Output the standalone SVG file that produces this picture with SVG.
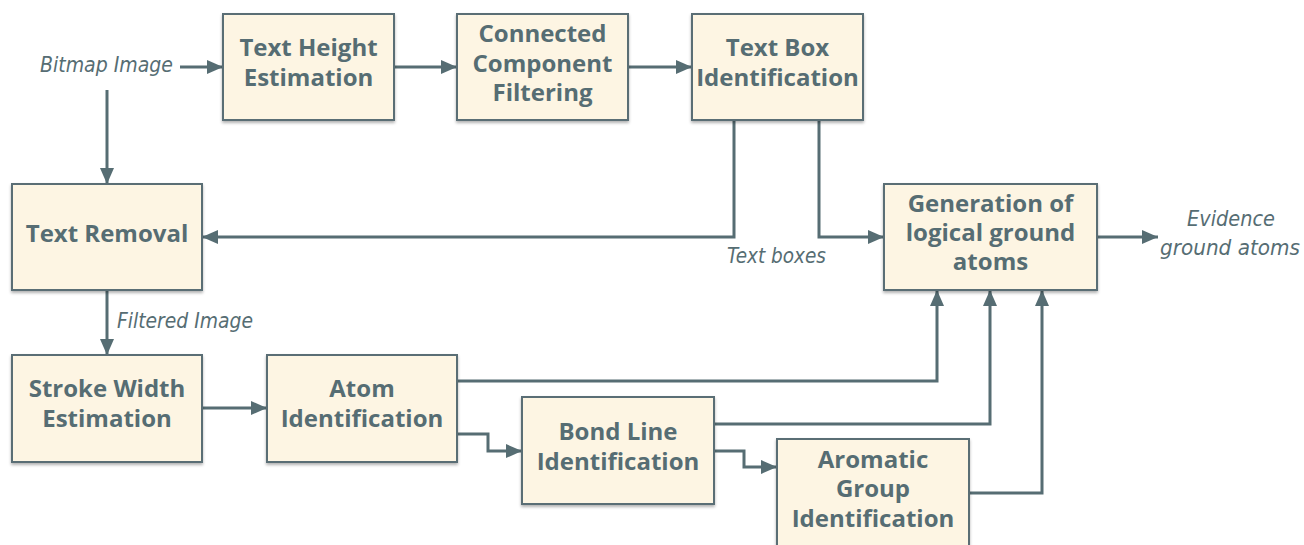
<svg xmlns="http://www.w3.org/2000/svg" width="1304" height="545" viewBox="0 0 1304 545">
<style>
.box{fill:#fdf5e3;stroke:#5a6e74;stroke-width:2;filter:url(#sh)}
.t{font-family:"Open Sans",Lato,sans-serif;font-weight:bold;font-size:24px;fill:#566d73;text-anchor:middle}
.lab{font-family:"DejaVu Sans Condensed","DejaVu Sans",sans-serif;font-style:oblique;font-size:22px;fill:#566d73}
.c{fill:none;stroke:#566d73;stroke-width:3;marker-end:url(#ah)}
</style>
<defs>
<filter id="sh" x="-10%" y="-10%" width="120%" height="130%">
<feDropShadow dx="0" dy="2" stdDeviation="1.5" flood-color="#000" flood-opacity="0.3"/>
</filter>
<marker id="ah" markerUnits="userSpaceOnUse" markerWidth="16" markerHeight="14" refX="16" refY="7" orient="auto">
<path d="M0,0 L16,7 L0,14 z" fill="#566d73"/>
</marker>
</defs>
<rect width="1304" height="545" fill="#fff"/>
<g id="connectors">
<path class="c" d="M180,67 H223"/>
<path class="c" d="M107,90 V184"/>
<path class="c" d="M394,67 H457"/>
<path class="c" d="M628,67 H692"/>
<path class="c" d="M734,120 V237 H202"/>
<path class="c" d="M819,120 V237 H884"/>
<path class="c" d="M1097,237 H1158"/>
<path class="c" d="M107,290 V355"/>
<path class="c" d="M202,408 H267"/>
<path class="c" d="M457,381 H937 V290"/>
<path class="c" d="M457,434 H488 V451 H522"/>
<path class="c" d="M714,424 H990 V290"/>
<path class="c" d="M714,451 H744 V467 H777"/>
<path class="c" d="M969,493 H1042 V290"/>
<text class="lab" x="40" y="72" textLength="133" lengthAdjust="spacingAndGlyphs">Bitmap Image</text>
<text class="lab" x="117" y="328" textLength="136" lengthAdjust="spacingAndGlyphs">Filtered Image</text>
<text class="lab" x="727" y="263" textLength="99" lengthAdjust="spacingAndGlyphs">Text boxes</text>
<text class="lab" x="1187" y="226" textLength="88" lengthAdjust="spacingAndGlyphs">Evidence</text>
<text class="lab" x="1160" y="255" textLength="140" lengthAdjust="spacingAndGlyphs">ground atoms</text>
</g>
<g id="text-height">
<rect class="box" x="223" y="14" width="171" height="106"/>
<text class="t" x="308.5" y="56">Text Height</text>
<text class="t" x="308.5" y="86">Estimation</text>
</g>
<g id="connected-component">
<rect class="box" x="457" y="14" width="171" height="106"/>
<text class="t" x="542.5" y="42">Connected</text>
<text class="t" x="542.5" y="72">Component</text>
<text class="t" x="542.5" y="101">Filtering</text>
</g>
<g id="text-box">
<rect class="box" x="692" y="14" width="171" height="106"/>
<text class="t" x="777.5" y="56">Text Box</text>
<text class="t" x="777.5" y="86">Identification</text>
</g>
<g id="text-removal">
<rect class="box" x="12" y="184" width="190" height="106"/>
<text class="t" x="107" y="242">Text Removal</text>
</g>
<g id="generation">
<rect class="box" x="884" y="184" width="213" height="106"/>
<text class="t" x="990.5" y="212">Generation of</text>
<text class="t" x="990.5" y="241">logical ground</text>
<text class="t" x="990.5" y="270">atoms</text>
</g>
<g id="stroke-width">
<rect class="box" x="12" y="355" width="190" height="107"/>
<text class="t" x="107" y="397">Stroke Width</text>
<text class="t" x="107" y="427">Estimation</text>
</g>
<g id="atom">
<rect class="box" x="267" y="355" width="190" height="107"/>
<text class="t" x="362" y="397">Atom</text>
<text class="t" x="362" y="427">Identification</text>
</g>
<g id="bond-line">
<rect class="box" x="522" y="397" width="192" height="107"/>
<text class="t" x="618" y="440">Bond Line</text>
<text class="t" x="618" y="470">Identification</text>
</g>
<g id="aromatic">
<rect class="box" x="777" y="439" width="192" height="115"/>
<text class="t" x="873" y="468">Aromatic</text>
<text class="t" x="873" y="497">Group</text>
<text class="t" x="873" y="527">Identification</text>
</g>
</svg>
